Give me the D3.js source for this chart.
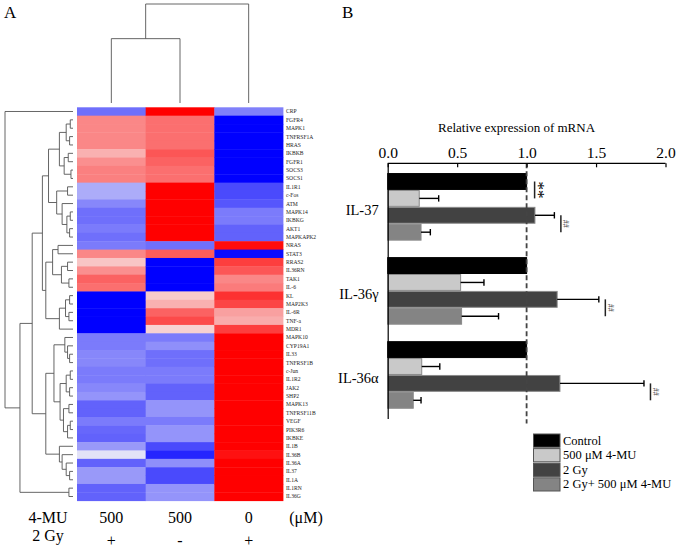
<!DOCTYPE html>
<html><head><meta charset="utf-8">
<script src="https://cdn.jsdelivr.net/npm/d3@7"></script>
<style>
body{margin:0;background:#fff}
svg{display:block}
text{font-family:"Liberation Serif","Times New Roman",serif;fill:#000}
</style>
</head><body>
<svg id="c" width="677" height="549"></svg>
<script>
// ---------- Panel A data ----------
const genes = ["CRP","FGFR4","MAPK1","TNFRSF1A","HRAS","IKBKB","FGFR1","SOCS3","SOCS1","IL1R1","c-Fos","ATM","MAPK14","IKBKG","AKT1","MAPKAPK2","NRAS","STAT3","RRAS2","IL36RN","TAK1","IL-6","KL","MAP2K3","IL-6R","TNF-a","MDR1","MAPK10","CYP19A1","IL33","TNFRSF1B","c-Jun","IL1R2","JAK2","SHP2","MAPK13","TNFRSF11B","VEGF","PIK3R6","IKBKE","IL1B","IL36B","IL36A","IL37","IL1A","IL1RN","IL36G"];
const doseLabels = ["500","500","0"];
const irrLabels = ["+","-","+"];
// z-scores per column (500 µM +2Gy, 500 µM no IR, 0 µM +2Gy)
const heatCol1 = [-0.55,0.45,0.45,0.45,0.45,0.28,0.42,0.48,0.48,-0.3,-0.3,-0.45,-0.55,-0.55,-0.5,-0.55,-0.5,0.45,0.2,0.42,0.6,0.55,-1,-1,-1,-1,-1,-0.5,-0.5,-0.45,-0.45,-0.5,-0.5,-0.45,-0.4,-0.6,-0.6,-0.5,-0.58,-0.6,-0.38,-0.08,-0.6,-0.38,-0.38,-0.6,-0.6];
const heatCol2 = [1,0.55,0.55,0.55,0.55,0.65,0.6,0.55,0.55,1,1,1,1,1,1,1,-0.55,0.62,-1,-1,-1,-1,0.18,0.28,0.6,0.7,0.15,-0.5,-0.42,-0.55,-0.55,-0.5,-0.5,-0.6,-0.6,-0.4,-0.4,-0.5,-0.4,-0.4,-0.7,-0.85,-0.42,-0.7,-0.7,-0.4,-0.4];
const heatCol3 = [-0.48,-1,-1,-1,-1,-1,-1,-1,-1,-0.7,-0.7,-0.65,-0.5,-0.5,-0.6,-0.6,0.95,-0.95,0.75,0.65,0.45,0.5,0.8,0.72,0.35,0.3,0.75,1,1,1,1,1,1,1,1,1,1,1,1,1,1,0.93,1,1,1,1,1];
// dendrograms: [height, childA, childB]; leaves are row / column indices
const G1 = [0.2,[0.1,[0.04,1,2],[0.05,3,4]],[0.13,[0.07,5,6],[0.03,7,8]]];
const G2 = [0.24,[0.08,9,10],[0.16,11,[0.09,[0.04,12,13],[0.05,14,15]]]];
const G3 = [0.22,16,17];
const G4 = [0.17,[0.08,18,19],[0.06,20,21]];
const G5 = [0.2,[0.11,[0.05,22,23],[0.06,24,25]],26];
const G6 = [0.28,[0.12,27,[0.08,28,[0.05,29,30]]],[0.19,[0.1,[0.04,31,32],[0.05,33,34]],[0.14,[0.06,35,36],[0.08,[0.04,37,38],39]]]];
const G7 = [0.2,40,[0.16,41,[0.1,42,[0.05,43,44]]]];
const rowTree = [1,0,[0.78,[0.6,[0.45,[0.36,G1,G2],[0.4,[0.3,G3,G4],G5]],[0.4,G6,G7]],[0.06,45,46]]];
const colTree = [1,[0.65,0,1],2];

// ---------- Panel B data ----------
const categories = ["IL-37","IL-36γ","IL-36α"];
const groups = ["Control","500 μM 4-MU","2 Gy","2 Gy+ 500 μM 4-MU"];
const groupColors = ["#000000","#c9c9c9","#424242","#848484"];
const ctrlVals = [1,1,1],          ctrlErr = [0,0,0];
const muVals = [0.227,0.525,0.245], muErr = [0.14,0.168,0.13];
const gyVals = [1.06,1.22,1.24],    gyErr = [0.14,0.3,0.605];
const comboVals = [0.24,0.532,0.184], comboErr = [0.067,0.266,0.056];
const xTicks = [0,0.5,1,1.5,2];
const sigMarks = [
  {cat:"IL-37", from:0, to:1, mark:"**"},
  {cat:"IL-37", from:2, to:3, mark:"##"},
  {cat:"IL-36γ", from:2, to:3, mark:"##"},
  {cat:"IL-36α", from:2, to:3, mark:"##"}
];

const svg = d3.select("#c");

// ================= Panel A =================
svg.append("text").attr("x",4).attr("y",18).style("font-size","17px").text("A");

const xH = d3.scaleBand().domain([0,1,2]).range([77,283]);
const yH = d3.scaleBand().domain(d3.range(genes.length)).range([107.3,500.7]);
const color = d3.scaleLinear().domain([-1,0,1]).range(["#0000ff","#f6f6f6","#ff0000"]).clamp(true);
const heatCols = [heatCol1,heatCol2,heatCol3];

const cells = [];
heatCols.forEach((col,j)=>col.forEach((v,i)=>cells.push({i,j,v})));
svg.append("g").selectAll("rect").data(cells).join("rect")
  .attr("x",d=>xH(d.j)).attr("y",d=>yH(d.i))
  .attr("width",xH.bandwidth()+0.4).attr("height",yH.bandwidth()+0.4)
  .attr("fill",d=>color(d.v));

svg.append("g").selectAll("text").data(genes).join("text")
  .attr("x",286).attr("y",(d,i)=>yH(i)+yH.bandwidth()/2).attr("dy","0.35em")
  .style("font-size","5.6px").style("fill","#222").text(d=>d);

// row dendrogram
const hx = d3.scaleLinear().domain([0,1]).range([73,5]);
const dRow = svg.append("g").attr("stroke","#555").attr("stroke-width",0.9).attr("fill","none");
function rowDen(node){
  if(typeof node==="number") return {pos:yH(node)+yH.bandwidth()/2,h:0};
  const [h,a,b]=node; const A=rowDen(a), B=rowDen(b);
  const x=hx(h);
  dRow.append("path").attr("d",`M${hx(A.h)},${A.pos}H${x}V${B.pos}H${hx(B.h)}`);
  return {pos:(A.pos+B.pos)/2,h};
}
rowDen(rowTree);

// column dendrogram
const hy = d3.scaleLinear().domain([0,1]).range([103,4]);
const dCol = svg.append("g").attr("stroke","#555").attr("stroke-width",0.9).attr("fill","none");
function colDen(node){
  if(typeof node==="number") return {pos:xH(node)+xH.bandwidth()/2,h:0};
  const [h,a,b]=node; const A=colDen(a), B=colDen(b);
  const y=hy(h);
  dCol.append("path").attr("d",`M${A.pos},${hy(A.h)}V${y}H${B.pos}V${hy(B.h)}`);
  return {pos:(A.pos+B.pos)/2,h};
}
colDen(colTree);

// bottom condition labels
const bl = svg.append("g").style("font-size","16px");
bl.append("text").attr("x",48).attr("y",523).attr("text-anchor","middle").text("4-MU");
bl.append("text").attr("x",48).attr("y",541).attr("text-anchor","middle").text("2 Gy");
bl.selectAll(".dose").data(doseLabels).join("text").attr("class","dose")
  .attr("x",(d,j)=>xH(j)+xH.bandwidth()/2).attr("y",523).attr("text-anchor","middle").text(d=>d);
bl.selectAll(".irr").data(irrLabels).join("text").attr("class","irr")
  .attr("x",(d,j)=>xH(j)+xH.bandwidth()/2).attr("y",546).attr("text-anchor","middle").text(d=>d);
bl.append("text").attr("x",306).attr("y",523).attr("text-anchor","middle").text("(μM)");

// ================= Panel B =================
svg.append("text").attr("x",342).attr("y",18).style("font-size","17px").text("B");

const xB = d3.scaleLinear().domain([0,2]).range([387.7,665.5]);
const yB = d3.scaleBand().domain(categories).range([163.3,418.5]).paddingInner(0.196).paddingOuter(0.116);
const yIn = d3.scaleBand().domain(d3.range(groups.length)).range([0,yB.bandwidth()]);

const vals = [ctrlVals,muVals,gyVals,comboVals];
const errs = [ctrlErr,muErr,gyErr,comboErr];
const bars = [];
categories.forEach((c,ci)=>groups.forEach((g,gi)=>bars.push({c,gi,v:vals[gi][ci],e:errs[gi][ci]})));

svg.append("text").attr("x",516.5).attr("y",132).attr("text-anchor","middle")
  .style("font-size","13px").text("Relative expression of mRNA");

const bg = svg.append("g");
bg.selectAll("rect").data(bars).join("rect")
  .attr("x",xB(0)).attr("y",d=>yB(d.c)+yIn(d.gi)+0.5)
  .attr("width",d=>xB(d.v)-xB(0)).attr("height",yIn.bandwidth()-1)
  .attr("fill",d=>groupColors[d.gi]).attr("stroke",d=>d.gi===0?"#000":"#8a8a8a").attr("stroke-width",1);

// error bars
const eb = svg.append("g").attr("stroke","#000").attr("stroke-width",1.4);
bars.filter(d=>d.e>0).forEach(d=>{
  const cy=yB(d.c)+yIn(d.gi)+yIn.bandwidth()/2;
  eb.append("line").attr("x1",xB(d.v)).attr("x2",xB(d.v+d.e)).attr("y1",cy).attr("y2",cy);
  eb.append("line").attr("x1",xB(d.v+d.e)).attr("x2",xB(d.v+d.e)).attr("y1",cy-3.2).attr("y2",cy+3.2);
});

// dashed reference line
svg.append("line").attr("x1",xB(1)).attr("x2",xB(1)).attr("y1",yB.range()[0]).attr("y2",yB.range()[1]+5)
  .attr("stroke","#444").attr("stroke-width",1.8).attr("stroke-dasharray","5,3");

// axes
const xAx = svg.append("g").attr("transform",`translate(0,${yB.range()[0]})`)
  .call(d3.axisTop(xB).tickValues(xTicks).tickFormat(d3.format(".1f")).tickSizeInner(-4).tickSizeOuter(0).tickPadding(5));
xAx.selectAll("text").style("font-size","15.5px").style("font-family",'"Liberation Serif",serif');
xAx.selectAll("path,line").attr("stroke","#000").attr("stroke-width",1.2);
xAx.select(".domain").attr("d",`M${xB(0)},0H${xB(2)}`);

const yAx = svg.append("g").attr("transform",`translate(${xB(0)},0)`)
  .call(d3.axisLeft(yB).tickSize(0).tickPadding(9));
yAx.selectAll("text").style("font-size","14.5px").style("font-family",'"Liberation Serif",serif').attr("dy","0.55em");
yAx.select(".domain").attr("stroke","#000").attr("stroke-width",1.2);

// significance marks
const sg = svg.append("g");
sigMarks.forEach(s=>{
  const ci = categories.indexOf(s.cat);
  const y1 = yB(s.cat)+yIn(s.from)+yIn.bandwidth()/2;
  const y2 = yB(s.cat)+yIn(s.to)+yIn.bandwidth()/2;
  const top = d3.max([s.from,s.to],g=>vals[g][ci]+errs[g][ci]);
  const star = s.mark==="**";
  const x = xB(top)+(star?8:6.5);
  sg.append("line").attr("x1",x).attr("x2",x).attr("y1",y1).attr("y2",y2).attr("stroke","#222").attr("stroke-width",1.5);
  if(star){
    sg.append("text").attr("transform",`translate(${x+6.5},${(y1+y2)/2}) rotate(90)`)
      .attr("text-anchor","middle").attr("dy","0.5em").style("font-size","17px").text(s.mark);
  } else {
    sg.append("text").attr("transform",`translate(${x+5},${(y1+y2)/2}) rotate(90)`)
      .attr("text-anchor","middle").attr("dy","0.35em").style("font-size","8px").style("fill","#444").text(s.mark);
  }
});

// legend
const lg = svg.append("g").attr("transform","translate(533.5,434)");
groups.forEach((g,i)=>{
  lg.append("rect").attr("x",0).attr("y",i*14.6).attr("width",26.5).attr("height",13.2)
    .attr("fill",groupColors[i]).attr("stroke","#555").attr("stroke-width",1);
  lg.append("text").attr("x",29.5).attr("y",i*14.6+10.5).style("font-size","12.5px").text(g);
});
</script>
</body></html>
